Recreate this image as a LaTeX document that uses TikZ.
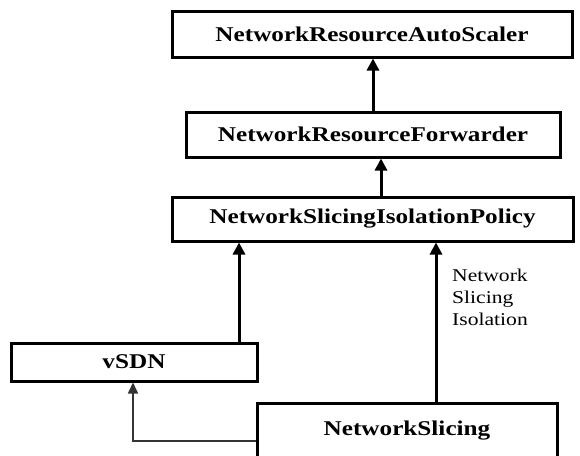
\documentclass[tikz,border=0pt]{standalone}
\usepackage{fontspec}
\setmainfont{Liberation Serif}
\newfontfamily\boxfont[FakeStretch=1.2]{Liberation Serif}
\usetikzlibrary{arrows.meta}
\tikzset{
  classfont/.style={font=\boxfont\bfseries\fontsize{21}{24}\selectfont},
  classbox/.style={classfont, draw=black, line width=3pt, fill=white, inner sep=0pt},
  strong/.style={line width=3pt, -{Triangle[width=12pt,length=12pt]}},
  thin/.style={line width=1.6pt, draw=black!80, -{Triangle[width=10pt,length=11pt]}},
  lbl/.style={font=\boxfont\fontsize{18}{22}\selectfont, align=left, inner sep=0pt}
}
\begin{document}
\begin{tikzpicture}[x=1pt,y=-1pt]
  \useasboundingbox (0,0) rectangle (580,455);

  % class boxes
  \node[classbox, minimum width=400pt, minimum height=46pt] (scaler) at (372,34) {NetworkResourceAutoScaler};
  \node[classbox, minimum width=374pt, minimum height=45pt] (fwd) at (373,134.5) {NetworkResourceForwarder};
  \node[classbox, minimum width=401pt, minimum height=44pt] (policy) at (372.5,219) {NetworkSlicingIsolationPolicy};
  \node[classbox, minimum width=246pt, minimum height=38pt] (vsdn) at (134,362) {vSDN};
  \node[classbox, minimum width=300pt, minimum height=100pt, anchor=north] (slicing) at (407,402) {};
  \node[classfont, inner sep=0pt] (slicingtext) at (407,431) {NetworkSlicing};

  % x positions of the vertical connectors
  \coordinate (xa) at (373,0);
  \coordinate (xb) at (381,0);
  \coordinate (xc) at (239,0);
  \coordinate (xd) at (436,0);
  \coordinate (xe) at (133,0);
  \coordinate (bend) at (133,441);

  % generalisation arrows
  \draw[strong] (xa |- fwd.north) -- (xa |- scaler.south);
  \draw[strong] (xb |- policy.north) -- (xb |- fwd.south);
  \draw[strong] (xc |- vsdn.north) -- (xc |- policy.south);
  \draw[strong] (xd |- slicing.north) -- (xd |- policy.south);
  \draw[thin] (bend -| slicing.west) -- (bend) -- (xe |- vsdn.south);

  % connector label
  \node[lbl, anchor=north west] (isolation) at (452,269) {Network\\Slicing\\Isolation};
\end{tikzpicture}
\end{document}
